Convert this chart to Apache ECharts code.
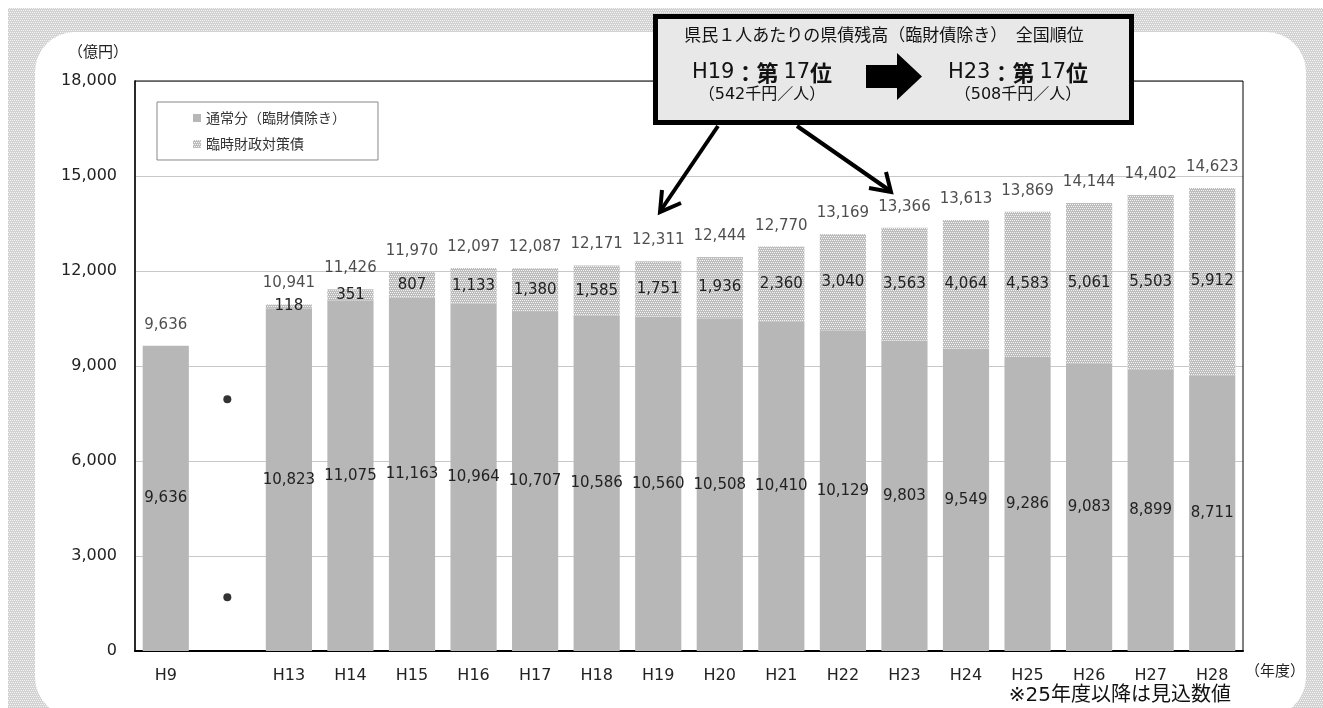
<!DOCTYPE html>
<html>
<head>
<meta charset="utf-8">
<script src="https://cdn.jsdelivr.net/npm/echarts@6/dist/echarts.min.js"></script>
<style>
html,body{margin:0;padding:0;background:#fff;}
#chart{width:1323px;height:708px;}
</style>
</head>
<body>
<div id="chart"></div>
<script>
// ---- data ----
const categories = ['H9', '', 'H13', 'H14', 'H15', 'H16', 'H17', 'H18', 'H19', 'H20', 'H21', 'H22', 'H23', 'H24', 'H25', 'H26', 'H27', 'H28'];
const normalValues = [9636, '-', 10823, 11075, 11163, 10964, 10707, 10586, 10560, 10508, 10410, 10129, 9803, 9549, 9286, 9083, 8899, 8711];
const tempValues = ['-', '-', 118, 351, 807, 1133, 1380, 1585, 1751, 1936, 2360, 3040, 3563, 4064, 4583, 5061, 5503, 5912];
const totalValues = [9636, '-', 10941, 11426, 11970, 12097, 12087, 12171, 12311, 12444, 12770, 13169, 13366, 13613, 13869, 14144, 14402, 14623];
const breakDots = [[1, 7950], [1, 1700]];
const yTicks = { min: 0, max: 18000, interval: 3000 };
const seriesNames = ['通常分（臨財債除き）', '臨時財政対策債'];

const FONT = '"Noto Sans CJK JP", "Noto Sans", sans-serif';
const NUMFONT = '"DejaVu Sans", "Noto Sans CJK JP", sans-serif';

function makePattern(bg, dot, cells) {
  const c = document.createElement('canvas');
  c.width = 4; c.height = 4;
  const ctx = c.getContext('2d');
  ctx.fillStyle = bg; ctx.fillRect(0, 0, 4, 4);
  ctx.fillStyle = dot;
  cells.forEach(p => ctx.fillRect(p[0], p[1], 1, 1));
  return c;
}
const barPattern = { image: makePattern('#bdbdbd', '#f4f4f4', [[0,0],[2,0],[1,2],[3,2]]), repeat: 'repeat' };
const bgPattern = { image: makePattern('#d2d2d2', '#f4f4f4', [[0,0],[2,0],[1,2],[3,2]]), repeat: 'repeat' };

const fmt = v => Number(v).toLocaleString('en-US');

const chart = echarts.init(document.getElementById('chart'));
chart.setOption({
  animation: false,
  textStyle: { fontFamily: FONT },
  grid: { left: 135, right: 80, top: 81, bottom: 57, show: true, borderColor: '#000', borderWidth: 1, z: 1 },
  legend: {
    data: seriesNames,
    orient: 'vertical', left: 157, top: 102,
    icon: 'rect', itemWidth: 8, itemHeight: 8, itemGap: 12,
    padding: [9, 32, 9, 36],
    borderColor: '#888', borderWidth: 1, backgroundColor: '#fff',
    textStyle: { fontSize: 14, color: '#333', fontFamily: FONT }
  },
  xAxis: {
    type: 'category', data: categories,
    axisLine: { lineStyle: { color: '#000', width: 2 } },
    axisTick: { inside: true, length: 4, lineStyle: { color: '#888' } },
    axisLabel: { fontSize: 16, color: '#222', margin: 17, fontFamily: NUMFONT }
  },
  yAxis: {
    type: 'value', min: yTicks.min, max: yTicks.max, interval: yTicks.interval,
    axisLine: { show: true, lineStyle: { color: '#555', width: 2 } },
    axisTick: { show: false },
    splitLine: { lineStyle: { color: '#c8c8c8' } },
    axisLabel: { fontSize: 16, color: '#222', margin: 18, formatter: v => fmt(v), fontFamily: NUMFONT }
  },
  series: [
    {
      name: seriesNames[0], type: 'bar', stack: 'debt', data: normalValues,
      barCategoryGap: '25%',
      itemStyle: { color: '#b7b7b7' },
      label: { show: true, position: 'inside', fontSize: 15, color: '#222', formatter: p => fmt(p.value), fontFamily: NUMFONT }
    },
    {
      name: seriesNames[1], type: 'bar', stack: 'debt', data: tempValues,
      itemStyle: { color: barPattern },
      label: { show: true, position: 'inside', fontSize: 15, color: '#222', formatter: p => fmt(p.value), fontFamily: NUMFONT }
    },
    {
      name: 'total', type: 'scatter', data: totalValues, symbolSize: 1,
      itemStyle: { color: 'rgba(0,0,0,0)' }, silent: true,
      label: { show: true, position: 'top', distance: 13, fontSize: 15, color: '#222', formatter: p => fmt(p.value), fontFamily: NUMFONT }
    },
    {
      name: 'break', type: 'scatter', data: breakDots, symbolSize: 8,
      itemStyle: { color: '#000' }, silent: true
    }
  ],
  graphic: [
    { type: 'rect', z: -10, silent: true, shape: { x: 8, y: 8, width: 1315, height: 700 }, style: { fill: bgPattern } },
    { type: 'rect', z: -9, silent: true, shape: { x: 35, y: 32, width: 1271, height: 685, r: 40 }, style: { fill: '#fff' } },
    { type: 'text', z: 5, style: { text: '（億円）', x: 98, y: 51, textAlign: 'center', textVerticalAlign: 'middle', font: '15px ' + FONT, fill: '#222' } },
    { type: 'text', z: 5, style: { text: '（年度）', x: 1275, y: 670, textAlign: 'center', textVerticalAlign: 'middle', font: '15px ' + FONT, fill: '#222' } },
    { type: 'text', z: 5, style: { text: '※25年度以降は見込数値', x: 1231, y: 696, textAlign: 'right', textVerticalAlign: 'middle', font: '20px ' + NUMFONT, fill: '#111' } },
    // callout box
    { type: 'rect', z: 100, shape: { x: 655.5, y: 16.5, width: 476, height: 106 }, style: { fill: '#e8e8e8', stroke: '#000', lineWidth: 5 } },
    { type: 'text', z: 101, style: { text: '県民１人あたりの県債残高（臨財債除き）　全国順位', x: 884, y: 35, textAlign: 'center', textVerticalAlign: 'middle', font: '17px ' + FONT, fill: '#111' } },
    { type: 'text', z: 101, style: {
        text: '{a|H19}{b|：第 }{a|17}{b|位}', x: 762, y: 73, textAlign: 'center', textVerticalAlign: 'middle',
        rich: { a: { fontSize: 21, fontFamily: NUMFONT, fill: '#111' }, b: { fontSize: 22, fontWeight: 'bold', fontFamily: FONT, fill: '#111' } } } },
    { type: 'text', z: 101, style: { text: '（542千円／人）', x: 762, y: 95, textAlign: 'center', textVerticalAlign: 'middle', font: '16px ' + NUMFONT, fill: '#111' } },
    { type: 'text', z: 101, style: {
        text: '{a|H23}{b|：第 }{a|17}{b|位}', x: 1018, y: 73, textAlign: 'center', textVerticalAlign: 'middle',
        rich: { a: { fontSize: 21, fontFamily: NUMFONT, fill: '#111' }, b: { fontSize: 22, fontWeight: 'bold', fontFamily: FONT, fill: '#111' } } } },
    { type: 'text', z: 101, style: { text: '（508千円／人）', x: 1018, y: 95, textAlign: 'center', textVerticalAlign: 'middle', font: '16px ' + NUMFONT, fill: '#111' } },
    { type: 'polygon', z: 101, shape: { points: [[866,65],[897,65],[897,53],[922,76.5],[897,100],[897,88],[866,88]] }, style: { fill: '#000' } },
    // pointer arrows
    { type: 'line', z: 102, shape: { x1: 718, y1: 126, x2: 661, y2: 210 }, style: { stroke: '#000', lineWidth: 4 } },
    { type: 'polyline', z: 102, shape: { points: [[662,190],[660,212],[681,203]] }, style: { stroke: '#000', lineWidth: 4, fill: null, lineJoin: 'miter' } },
    { type: 'line', z: 102, shape: { x1: 797, y1: 126, x2: 889, y2: 190 }, style: { stroke: '#000', lineWidth: 4 } },
    { type: 'polyline', z: 102, shape: { points: [[869,188],[891,192],[886,172]] }, style: { stroke: '#000', lineWidth: 4, fill: null, lineJoin: 'miter' } }
  ]
});
</script>
</body>
</html>
